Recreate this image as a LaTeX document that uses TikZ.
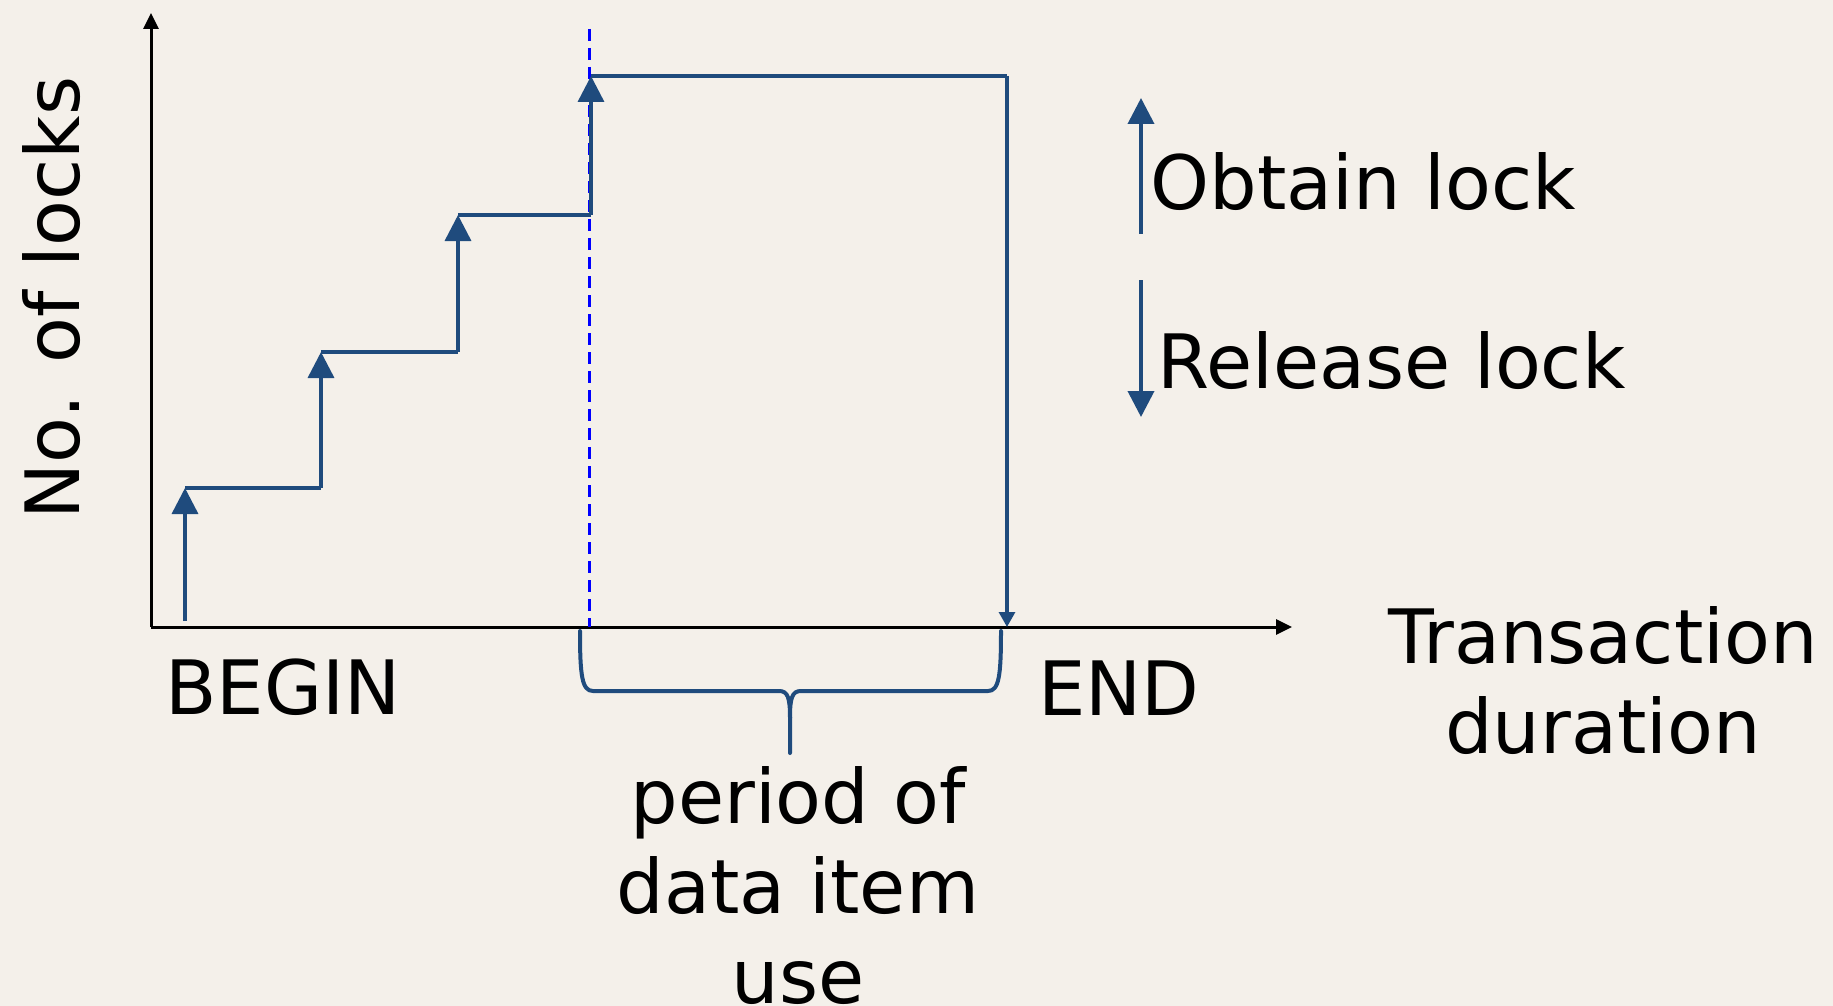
\documentclass[tikz,border=0pt]{standalone}
\usepackage{fontspec}
\setmainfont{DejaVu Sans}
\usetikzlibrary{arrows.meta}
\definecolor{paper}{HTML}{F4F0EA}
\definecolor{lockblue}{HTML}{1F4B7D}
\definecolor{markblue}{HTML}{0000FF}

\begin{document}
\begin{tikzpicture}[x=0.5pt,y=-0.5pt,
  axis/.style={line width=1.5pt, black, -{Triangle[width=7.5pt,length=8pt]}},
  stair/.style={line width=1.75pt, lockblue},
  lockup/.style={stair, -{Triangle[width=13pt,length=13pt]}},
  lockdown/.style={line width=1.55pt, lockblue, -{Triangle[width=8pt,length=7.5pt]}},
  usemark/.style={line width=1.5pt, markblue, dash pattern=on 6pt off 3.5pt},
  bracepath/.style={line width=2pt, lockblue, line cap=round, line join=round},
  txt/.style={inner sep=0pt, font=\fontsize{37.5}{45}\selectfont, text=black},
]
% canvas
\fill[paper] (0,0) rectangle (1833,1006);
\useasboundingbox (0,0) rectangle (1833,1006);

% axes
\coordinate (O) at (151,627);
\coordinate (ytop) at (151,13);
\coordinate (xend) at (1292,627);
\draw[axis] (O) -- (ytop);
\draw[axis] (O) -- (xend);

% staircase of acquired locks
\coordinate (a0) at (185,621);
\coordinate (a1) at (185,488);
\coordinate (b0) at (321,488);
\coordinate (b1) at (321,352);
\coordinate (c0) at (458,352);
\coordinate (c1) at (458,215);
\coordinate (d0) at (591,215);
\coordinate (d1) at (591,76);
\coordinate (e0) at (1007,76);
\coordinate (e1) at (1007,627);

% start of data item use
\coordinate (m0) at (589,29);
\coordinate (m1) at (589,627);
\draw[usemark] (m0) -- (m1);

\draw[lockup] (a0) -- (a1);
\draw[stair] (a1) -- (b0);
\draw[lockup] (b0) -- (b1);
\draw[stair] (b1) -- (c0);
\draw[lockup] (c0) -- (c1);
\draw[stair] (c1) -- (d0);
\draw[lockup] (d0) -- (d1);
\draw[line width=1.55pt, lockblue] (d1) -- (e0);
\draw[lockdown] (e0) -- (e1);

% brace under the period of use
\draw[bracepath] (580,631) .. controls (580,676) and (582,691) .. (593,691)
  -- (779,691) .. controls (788,691) and (790,698) .. (790,718) -- (790,753);
\draw[bracepath] (790,718) .. controls (790,698) and (792,691) .. (801,691)
  -- (988,691) .. controls (999,691) and (1001,676) .. (1001,631);

% legend
\coordinate (u0) at (1141,234);
\coordinate (u1) at (1141,98);
\coordinate (r0) at (1141,280);
\coordinate (r1) at (1141,417);
\draw[lockup, line width=1.9pt] (u0) -- (u1);
\draw[lockup, line width=1.9pt] (r0) -- (r1);
\node[txt, anchor=base west] (obtain) at (1150,210) {Obtain lock};
\node[txt, anchor=base west] (release) at (1157,388) {Release lock};

% labels
\node[txt, anchor=base, rotate=90] (ylab) at (79,298) {No. of locks};
\node[txt, anchor=base] (begin) at (283,714) {BEGIN};
\node[txt, anchor=base] (end) at (1119,715) {END};
\node[txt, anchor=base, align=center] (xlab) at (1603,753) {Transaction\\duration};
\node[txt, anchor=base, align=center] (period) at (798,1003) {period of\\data item\\use};
\end{tikzpicture}
\end{document}
